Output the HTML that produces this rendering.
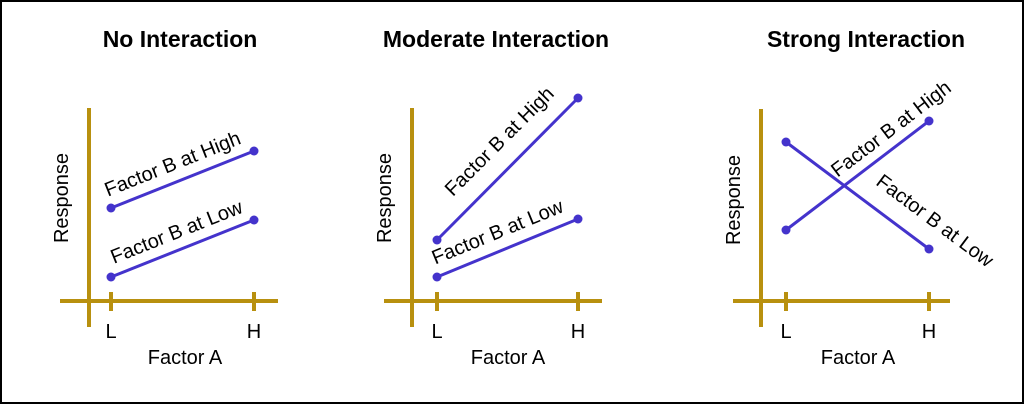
<!DOCTYPE html>
<html><head><style>html,body{margin:0;padding:0;background:#fff}</style></head><body>
<svg width="1024" height="404" xmlns="http://www.w3.org/2000/svg" font-family="Liberation Sans, sans-serif">
<rect x="1" y="1" width="1022" height="402" fill="#fff" stroke="#000" stroke-width="2"/>
<g font-weight="bold" font-size="23" text-anchor="middle" fill="#000">
<text x="180" y="47">No Interaction</text>
<text x="496" y="47">Moderate Interaction</text>
<text x="866" y="47">Strong Interaction</text>
</g>
<g stroke="#b8900f" stroke-width="4" fill="none">
<path d="M89 108V327M60 301H278M111 292V311M254 292V311"/>
<path d="M412 108V327M384 301H602M437 292V311M578 292V311"/>
<path d="M761 109V327M733 301H950M786 292V311M929 292V311"/>
</g>
<g stroke="#4433cc" stroke-width="3">
<line x1="111" y1="208" x2="254" y2="151"/><line x1="111" y1="277" x2="254" y2="220"/>
<line x1="437" y1="240" x2="578" y2="98"/><line x1="437" y1="277" x2="578" y2="219"/>
<line x1="786" y1="230" x2="929" y2="121"/><line x1="786" y1="142" x2="929" y2="249"/>
</g>
<g fill="#4433cc">
<circle cx="111" cy="208" r="4.5"/><circle cx="254" cy="151" r="4.5"/><circle cx="111" cy="277" r="4.5"/><circle cx="254" cy="220" r="4.5"/>
<circle cx="437" cy="240" r="4.5"/><circle cx="578" cy="98" r="4.5"/><circle cx="437" cy="277" r="4.5"/><circle cx="578" cy="219" r="4.5"/>
<circle cx="786" cy="230" r="4.5"/><circle cx="929" cy="121" r="4.5"/><circle cx="786" cy="142" r="4.5"/><circle cx="929" cy="249" r="4.5"/>
</g>
<g font-size="20" fill="#000" text-anchor="middle">
<text x="0" y="0" transform="translate(175,170) rotate(-21.7)">Factor B at High</text>
<text x="0" y="0" transform="translate(179,238) rotate(-21.7)">Factor B at Low</text>
<text x="0" y="0" transform="translate(504,146) rotate(-45)">Factor B at High</text>
<text x="0" y="0" transform="translate(500,238) rotate(-22.4)">Factor B at Low</text>
<text x="0" y="0" transform="translate(895,134) rotate(-37.3)">Factor B at High</text>
<text x="0" y="0" transform="translate(931,226) rotate(36.8)">Factor B at Low</text>
<text x="111" y="338">L</text><text x="254" y="338">H</text>
<text x="437" y="338">L</text><text x="578" y="338">H</text>
<text x="786" y="338">L</text><text x="929" y="338">H</text>
<text x="185" y="364">Factor A</text>
<text x="508" y="364">Factor A</text>
<text x="858" y="364">Factor A</text>
<text x="0" y="0" transform="translate(68,198) rotate(-90)">Response</text>
<text x="0" y="0" transform="translate(391,198) rotate(-90)">Response</text>
<text x="0" y="0" transform="translate(740,200) rotate(-90)">Response</text>
</g>
</svg>
</body></html>
